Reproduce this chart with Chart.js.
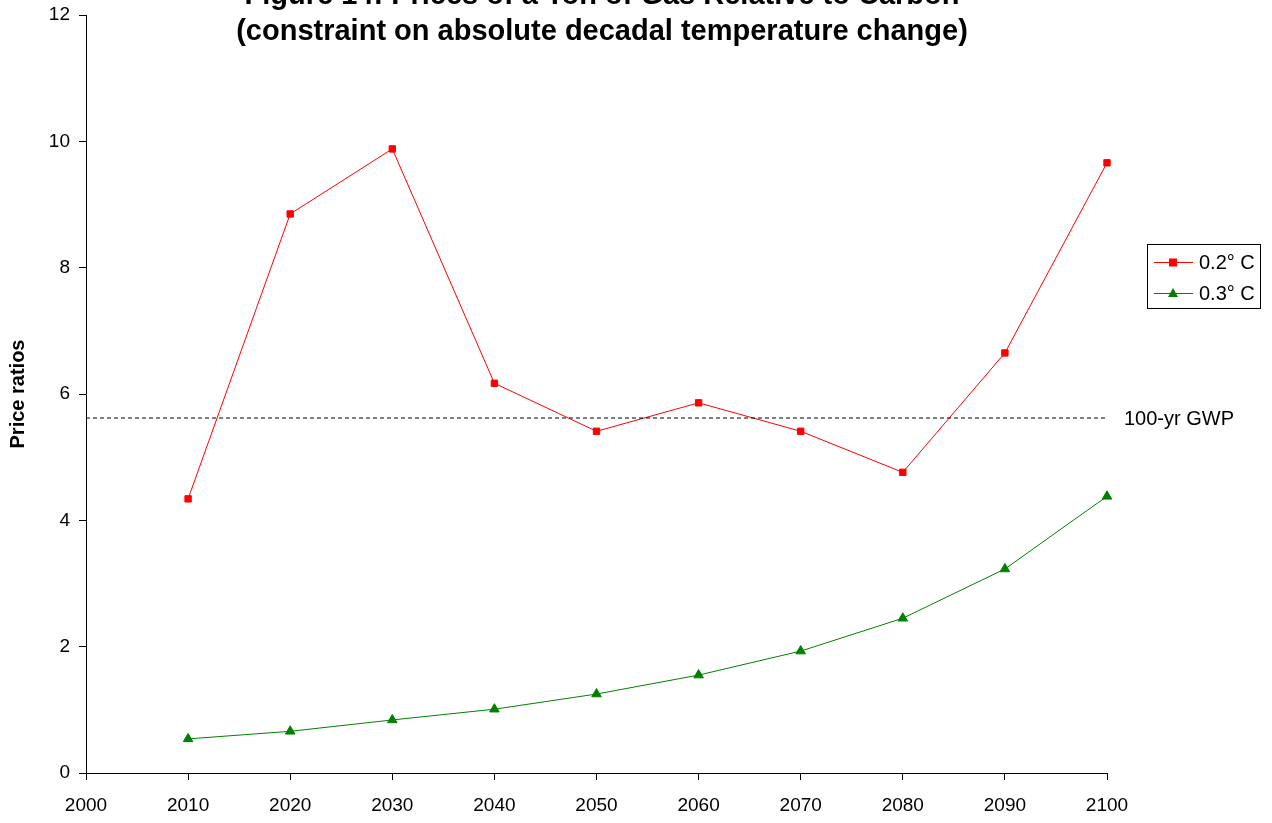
<!DOCTYPE html>
<html>
<head>
<meta charset="utf-8">
<script src="https://cdn.jsdelivr.net/npm/chart.js@4"></script>
<style>
  html, body { margin:0; padding:0; background:#fff; }
  #wrap { width:1272px; height:823px; }
</style>
</head>
<body>
<div id="wrap"><canvas id="gasChart" width="1272" height="823"></canvas></div>
<script>
const years = [2010, 2020, 2030, 2040, 2050, 2060, 2070, 2080, 2090, 2100];
const temp02 = [4.34, 8.85, 9.88, 6.17, 5.41, 5.86, 5.41, 4.76, 6.65, 9.66];
const temp03 = [0.54, 0.66, 0.84, 1.01, 1.25, 1.55, 1.93, 2.45, 3.23, 4.38];
const gwpYears = [2000, 2100];
const gwpValue = 5.62;
const titleLines = ['Figure 14: Prices of a Ton of Gas Relative to Carbon', '(constraint on absolute decadal temperature change)'];

const FONT = 'Arial, "Liberation Sans", sans-serif';

const pts = (xs, ys) => xs.map((x, i) => ({ x: x, y: ys[i] }));

// title, legend box and GWP label drawn on top
const extras = {
  id: 'extras',
  afterDraw(chart) {
    const ctx = chart.ctx;
    ctx.save();
    ctx.fillStyle = '#000';
    ctx.font = 'bold 29px ' + FONT;
    ctx.textAlign = 'center';
    ctx.textBaseline = 'middle';
    ctx.fillText(titleLines[0], 602, -4);
    ctx.fillText(titleLines[1], 602, 32);

    // GWP label
    const yg = chart.scales.y.getPixelForValue(gwpValue);
    ctx.font = '20px ' + FONT;
    ctx.textAlign = 'left';
    ctx.fillText('100-yr GWP', 1124, yg + 1);

    // legend
    ctx.strokeStyle = '#000';
    ctx.lineWidth = 1;
    ctx.strokeRect(1147.5, 244.5, 113, 64);
    const rows = [
      { y: 262, c: '#ff0000', t: '0.2° C', shape: 'rect' },
      { y: 293, c: '#008000', t: '0.3° C', shape: 'tri' }
    ];
    rows.forEach(r => {
      ctx.strokeStyle = r.c;
      ctx.beginPath();
      ctx.moveTo(1154, r.y + 0.5);
      ctx.lineTo(1193, r.y + 0.5);
      ctx.stroke();
      ctx.fillStyle = r.c;
      if (r.shape === 'rect') {
        ctx.fillRect(1169, r.y - 3.5, 8, 8);
      } else {
        ctx.beginPath();
        ctx.moveTo(1173, r.y - 5);
        ctx.lineTo(1178, r.y + 4);
        ctx.lineTo(1168, r.y + 4);
        ctx.closePath();
        ctx.fill();
      }
      ctx.fillStyle = '#000';
      ctx.fillText(r.t, 1199, r.y + 1);
    });
    ctx.restore();
  }
};

new Chart(document.getElementById('gasChart'), {
  type: 'line',
  data: {
    datasets: [
      {
        label: '100-yr GWP',
        data: pts(gwpYears, gwpYears.map(() => gwpValue)),
        borderColor: '#000',
        borderWidth: 1,
        borderDash: [4, 3],
        pointRadius: 0,
        fill: false
      },
      {
        label: '0.2° C',
        data: pts(years, temp02),
        borderColor: '#ff0000',
        backgroundColor: '#ff0000',
        borderWidth: 1,
        pointStyle: 'rect',
        pointRadius: 4.5,
        tension: 0,
        clip: false,
        fill: false
      },
      {
        label: '0.3° C',
        data: pts(years, temp03),
        borderColor: '#008000',
        backgroundColor: '#008000',
        borderWidth: 1,
        pointStyle: 'triangle',
        pointRadius: 5.5,
        tension: 0,
        clip: false,
        fill: false
      }
    ]
  },
  options: {
    responsive: false,
    animation: false,
    layout: { padding: { left: 0, right: 165, top: 15, bottom: 0 } },
    plugins: { legend: { display: false }, tooltip: { enabled: false } },
    scales: {
      x: {
        type: 'linear',
        min: 2000, max: 2100,
        afterFit: (s) => { s.height = 50; s.paddingLeft = 0; s.paddingRight = 0; },
        border: { color: '#000', width: 1 },
        grid: { drawOnChartArea: false, drawTicks: true, tickLength: 7, color: '#000' },
        ticks: { stepSize: 10, color: '#000', font: { family: FONT, size: 19 }, padding: 14, callback: v => String(v), maxRotation: 0 }
      },
      y: {
        min: 0, max: 12,
        afterFit: (s) => { s.width = 86; s.paddingTop = 0; s.paddingBottom = 0; },
        border: { color: '#000', width: 1 },
        grid: { drawOnChartArea: false, drawTicks: true, tickLength: 7, color: '#000' },
        ticks: { stepSize: 2, color: '#000', font: { family: FONT, size: 19 }, padding: 9 },
        title: { display: true, text: 'Price ratios', color: '#000', font: { family: FONT, size: 20, weight: 'bold' }, padding: { top: 6, bottom: 0 } }
      }
    }
  },
  plugins: [extras]
});
</script>
</body>
</html>
